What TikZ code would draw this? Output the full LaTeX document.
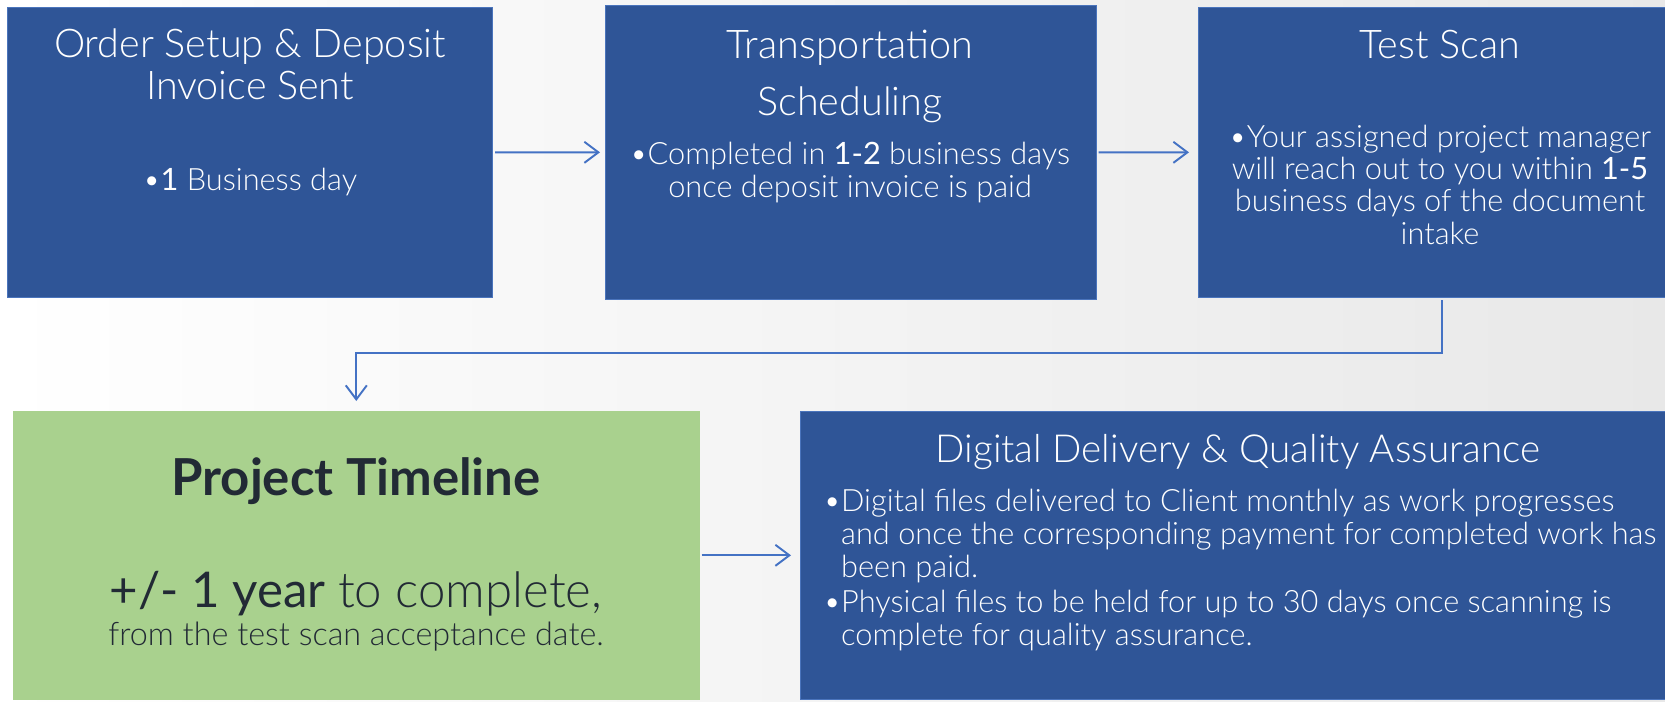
\documentclass[tikz,border=0pt]{standalone}
\usepackage{fontspec}
\setmainfont{Lato}
\newfontfamily\lightfont{Lato Light}
\usetikzlibrary{arrows.meta}
\definecolor{stepblue}{HTML}{2F5597}
\definecolor{edgeblue}{HTML}{4A74BC}
\definecolor{arrowblue}{HTML}{4472C4}
\definecolor{timegreen}{HTML}{A9D18E}
\definecolor{inkdark}{HTML}{222A35}
\newcommand\keynum[1]{{\rmfamily #1}}
\tikzset{
>={Straight Barb[length=8pt,width=12pt]},
  stepbox/.style={
    rectangle,
    fill=stepblue,
    draw=edgeblue, thin,
    anchor=north west,
    inner sep=0pt},
  greenbox/.style={stepbox, fill=timegreen, draw=timegreen},
  title/.style={text=white, font=\lightfont\fontsize{22.5}{23.5}\selectfont,
    align=center, anchor=base, inner sep=0pt},
  bullet/.style={text=white, font=\lightfont\fontsize{17.5}{18.3}\selectfont,
    align=center, anchor=base, inner sep=0pt},
  timetext/.style={text=inkdark, anchor=base, inner sep=0pt},
  line/.style={draw=arrowblue, line width=1.1pt, ->},
}
\begin{document}
\begin{tikzpicture}[x=0.02cm, y=-0.02cm]
     \fill[left color=white, right color=black!9] (0,0) rectangle (1665,701);
     \useasboundingbox (0,0) rectangle (1665,701);
     \node[stepbox, minimum width=9.71cm, minimum height=5.8cm]   (OrderSetup) at (7,7) {};
     \node[stepbox, minimum width=9.82cm, minimum height=5.88cm]  (Transport)  at (605,5) {};
     \node[stepbox, minimum width=9.74cm, minimum height=5.8cm]   (TestScan)   at (1198,7) {};
     \node[greenbox, minimum width=13.72cm, minimum height=5.76cm] (Timeline)  at (13,411) {};
     \node[stepbox, minimum width=17.52cm, minimum height=5.76cm] (Delivery)   at (800,411) {};
     % texts (base = last line)
     \node[title]  (OrderSetupTitle) at (250,99)  {Order Setup \& Deposit\\Invoice Sent};
     \node[bullet] (OrderSetupText)  at (250,190) {•\keynum{1} Business day};
     \node[title]  (TransportTitle)  at (850,115) {Transportation\\[8.8pt]Scheduling};
     \node[bullet] (TransportText)   at (850,197) {•Completed in \keynum{1-2} business days\\once deposit invoice is paid};
     \node[title]  (TestScanTitle)   at (1440,58) {Test Scan};
     \node[bullet] (TestScanText)    at (1440,244) {•Your assigned project manager\\will reach out to you within \keynum{1-5}\\business days of the document\\intake};
     \node[title, font=\lightfont\fontsize{22}{23.5}\selectfont] (DeliveryTitle) at (1238,462) {Digital Delivery \& Quality Assurance};
     \node[bullet, align=left, anchor=base west, font=\lightfont\fontsize{17.5}{18.7}\selectfont] (DeliveryText) at (823,645)
       {•Digital files delivered to Client monthly as work progresses\\
        \hphantom{•}and once the corresponding payment for completed work has\\
        \hphantom{•}been paid.\\[1.2pt]
        •Physical files to be held for up to 30 days once scanning is\\
        \hphantom{•}complete for quality assurance.};
     \node[timetext, font=\rmfamily\bfseries\fontsize{29}{32}\selectfont] (TimelineTitle) at (356,495) {Project Timeline};
     \node[timetext, font=\fontsize{28}{30}\selectfont] (TimelineSpan) at (356,607) {+/- 1 year {\lightfont to complete,}};
     \node[timetext, font=\lightfont\fontsize{18.4}{20}\selectfont] (TimelineFrom) at (356,645) {from the test scan acceptance date.};
     % connectors
     \coordinate (Bend) at (0,353);
     \draw[line, shorten <=0.04cm, shorten >=0.1cm]  (OrderSetup) -- (Transport);
     \draw[line, shorten <=0.04cm, shorten >=0.18cm] (Transport) -- (TestScan);
     \draw[line, shorten <=0.05cm, shorten >=0.2cm]  (TestScan.south) -- (TestScan.south |- Bend) -| (Timeline.north);
     \draw[line, shorten <=0.04cm, shorten >=0.18cm] (Timeline) -- (Delivery);
\end{tikzpicture}
\end{document}
